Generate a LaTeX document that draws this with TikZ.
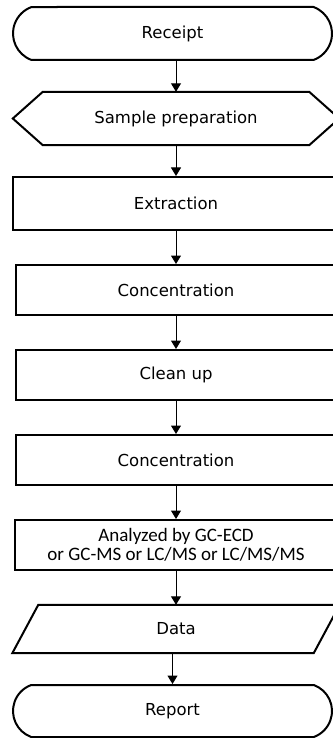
\documentclass[tikz,border=0pt]{standalone}
\usepackage{fontspec}
\setmainfont{DejaVu Sans}
\newfontfamily\calibri{Carlito}
\usetikzlibrary{arrows.meta,shapes.misc}

\begin{document}
\begin{tikzpicture}[x=1pt,y=-1pt,font=\fontsize{16.5}{20}\selectfont,
  box/.style={draw,line width=2pt,inner sep=0pt,minimum height=50pt,minimum width=320pt},
  term/.style={box,rounded rectangle,rounded rectangle arc length=140,minimum width=319pt,minimum height=53pt},
  plain/.style={inner sep=0pt,minimum width=326pt,minimum height=53pt},
  outline/.style={line width=2pt},
  arr/.style={-{Triangle[length=8.5pt,width=10pt]},line width=1pt}]
\useasboundingbox (0,0) rectangle (332,738);

\node[term] (receipt) at (172.5,33.5) {Receipt};
\node[plain] (prep) at (176,118.5) {Sample preparation};
\node[box,minimum width=326pt,minimum height=53pt] (extract) at (176,203.5) {Extraction};
\node[box] (conc1) at (176,290) {Concentration};
\node[box] (clean) at (176,375) {Clean up};
\node[box] (conc2) at (176,460) {Concentration};
\node[box,minimum width=322pt,align=center,font=\calibri\fontsize{19}{19.5}\selectfont] (analyze) at (176,545)
  {Analyzed by GC-ECD\\or GC-MS or LC/MS or LC/MS/MS};
\node[plain,minimum width=327pt,minimum height=48pt] (data) at (176,629) {Data};
\node[term,minimum height=52pt] (report) at (172.5,711) {Report};

% hexagon and parallelogram outlines
\draw[outline] ([xshift=30pt]prep.north west) -- ([xshift=-30pt]prep.north east) -- (prep.east)
  -- ([xshift=-30pt]prep.south east) -- ([xshift=30pt]prep.south west) -- (prep.west) -- cycle;
\draw[outline] (data.south west) -- ([xshift=-26pt]data.south east) -- (data.north east)
  -- ([xshift=26pt]data.north west) -- cycle;

\foreach \a/\b in {receipt/prep,prep/extract,extract/conc1,conc1/clean,clean/conc2,conc2/analyze,analyze/data,data/report}
  \draw[arr] (\a.south -| \b.north) -- (\b.north);

\end{tikzpicture}
\end{document}
